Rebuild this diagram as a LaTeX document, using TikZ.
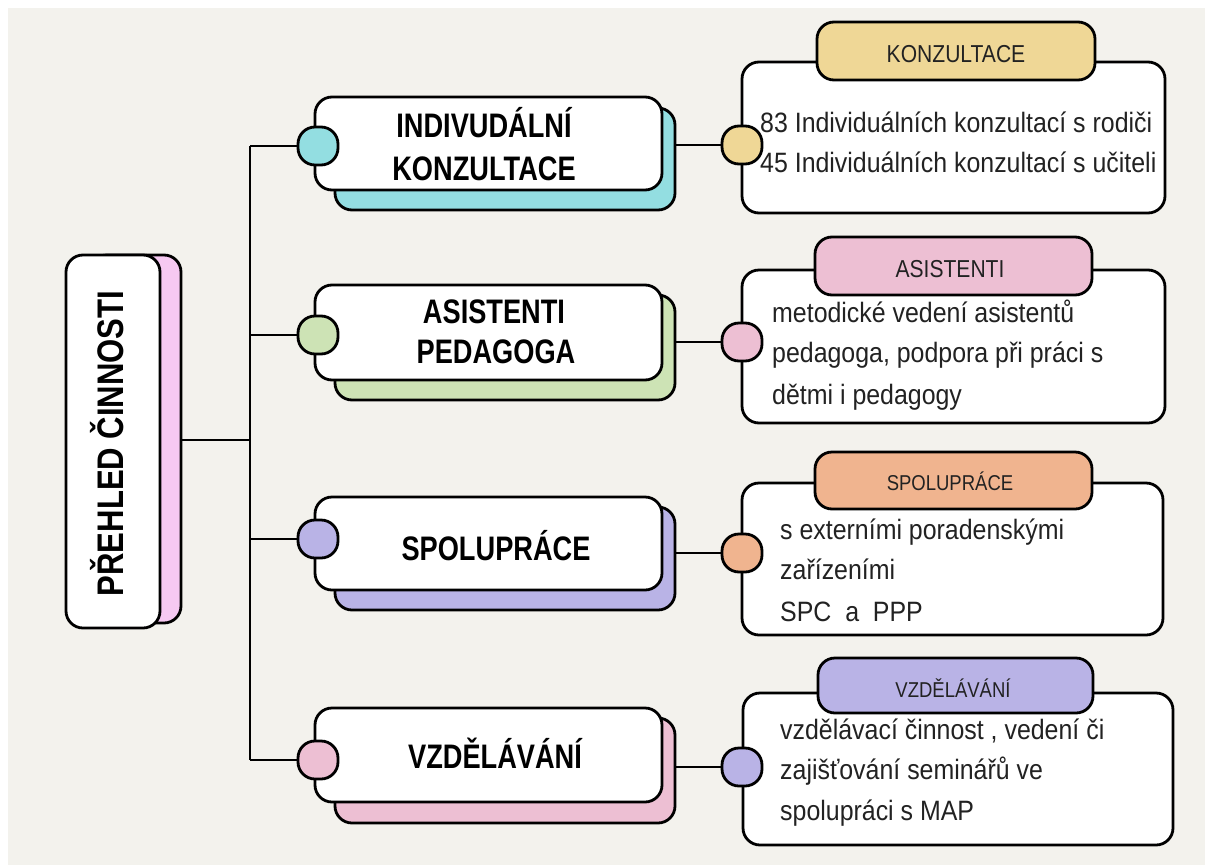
\documentclass[tikz,border=0pt]{standalone}
\usepackage{fontspec}
\setmainfont[FakeStretch=0.89]{Liberation Sans}
\newfontfamily\headfont[FakeStretch=0.80]{Liberation Sans}
\newfontfamily\rootfont[FakeStretch=0.84]{Liberation Sans}
\newfontfamily\tabfont[FakeStretch=0.86]{Liberation Sans}
\usetikzlibrary{fit}
\definecolor{bgc}{HTML}{F3F2ED}
\definecolor{teal1}{HTML}{93DEE1}
\definecolor{green1}{HTML}{CDE3B5}
\definecolor{purple1}{HTML}{B9B3E6}
\definecolor{pink1}{HTML}{EDBFD3}
\definecolor{rootpink}{HTML}{F6C9F2}
\definecolor{yellow1}{HTML}{EFD796}
\definecolor{orange1}{HTML}{F0B48F}
\definecolor{txt}{HTML}{222222}
\begin{document}
\begin{tikzpicture}[x=1pt,y=-1pt,
  panel/.style={draw=black, line width=2.8pt, rounded corners=17pt, inner sep=0pt},
  wpanel/.style={panel, fill=white},
  dot/.style={draw=black, line width=2.8pt, rounded corners=17pt, minimum width=40pt, minimum height=38pt, inner sep=0pt},
  conn/.style={draw=black, line width=2.4pt},
  title/.style={font=\headfont\bfseries\fontsize{34}{40}\selectfont, text=black, inner sep=0pt, anchor=base},
  tabtxt/.style={font=\tabfont\fontsize{24.5}{30}\selectfont, text=txt, inner sep=0pt, anchor=base},
  tabtxts/.style={font=\tabfont\fontsize{21.5}{26}\selectfont, text=txt, inner sep=0pt, anchor=base},
  body/.style={font=\fontsize{28}{40}\selectfont, text=txt, inner sep=0pt, anchor=base west}]
% background
\fill[white] (0,0) rectangle (1205,865);
\fill[bgc] (8,8) rectangle (1205,865);
\useasboundingbox (0,0) rectangle (1205,865);

% ---------- root ----------
\node[panel, fill=rootpink, fit={(90,255) (181,623)}] (s0) {};
\node[wpanel, fit={(66,255) (160,628)}] (w0) {};
\node[font=\rootfont\bfseries\fontsize{37}{40}\selectfont, rotate=90, anchor=base, inner sep=0pt] (t0) at (123,443.5) {PŘEHLED ČINNOSTI};

% ---------- trunk ----------
\coordinate (j0) at (250,440);
\coordinate (j1) at (250,146);
\coordinate (j2) at (250,335);
\coordinate (j3) at (250,539);
\coordinate (j4) at (250,760);
\draw[conn] (s0.east |- j0) -- (j0);
\draw[conn] (j1) -- (j4);

% ---------- left branch boxes ----------
\node[panel, fill=teal1, fit={(335,108) (675,210)}] (s1) {};
\node[wpanel, fit={(315,97) (662,190)}] (w1) {};
\node[panel, fill=green1, fit={(335,295) (675,400)}] (s2) {};
\node[wpanel, fit={(315,285) (662,380)}] (w2) {};
\node[panel, fill=purple1, fit={(335,507) (675,610)}] (s3) {};
\node[wpanel, fit={(315,497) (662,590)}] (w3) {};
\node[panel, fill=pink1, fit={(335,718) (675,823)}] (s4) {};
\node[wpanel, fit={(315,708) (662,802)}] (w4) {};

\node[title] (t1a) at (484,137) {INDIVUDÁLNÍ};
\node[title] (t1b) at (484,180) {KONZULTACE};
\node[title] (t2a) at (494,323) {ASISTENTI};
\node[title] (t2b) at (496,363) {PEDAGOGA};
\node[title] (t3) at (496,560) {SPOLUPRÁCE};
\node[title] (t4) at (495,768) {VZDĚLÁVÁNÍ};

% ---------- right boxes ----------
\node[wpanel, fit={(742,62) (1165,213)}] (r1) {};
\node[panel, fill=yellow1, fit={(817,22) (1095,80)}] (h1) {};
\node[wpanel, fit={(742,270) (1165,423)}] (r2) {};
\node[panel, fill=pink1, fit={(815,237) (1092,295)}] (h2) {};
\node[wpanel, fit={(742,483) (1163,635)}] (r3) {};
\node[panel, fill=orange1, fit={(815,452) (1092,509)}] (h3) {};
\node[wpanel, fit={(743,693) (1173,845)}] (r4) {};
\node[panel, fill=purple1, fit={(818,658) (1093,713)}] (h4) {};

\node[tabtxt] (h1t) at (956,62) {KONZULTACE};
\node[tabtxt] (h2t) at (950,277) {ASISTENTI};
\node[tabtxts] (h3t) at (950,490) {SPOLUPRÁCE};
\node[tabtxts] (h4t) at (953,697) {VZDĚLÁVÁNÍ};

\node[body] (b1a) at (760,132) {83 Individuálních konzultací s rodiči};
\node[body] (b1b) at (760,172) {45 Individuálních konzultací s učiteli};
\node[body] (b2a) at (772,322) {metodické vedení asistentů};
\node[body] (b2b) at (772,362) {pedagoga, podpora při práci s};
\node[body] (b2c) at (772,404) {dětmi i pedagogy};
\node[body] (b3a) at (780,539) {s externími poradenskými};
\node[body] (b3b) at (780,579) {zařízeními};
\node[body] (b3c) at (780,621) {SPC\ \ a\ \ PPP};
\node[body] (b4a) at (780,739) {vzdělávací činnost , vedení či};
\node[body] (b4b) at (780,779) {zajišťování seminářů ve};
\node[body] (b4c) at (780,820) {spolupráci s MAP};

% ---------- connectors and dots ----------
\coordinate (k1) at (742,145);
\coordinate (k2) at (742,342);
\coordinate (k3) at (742,553);
\coordinate (k4) at (742,767);
\draw[conn] (s1.east |- k1) -- (k1);
\draw[conn] (s2.east |- k2) -- (k2);
\draw[conn] (s3.east |- k3) -- (k3);
\draw[conn] (s4.east |- k4) -- (k4);

\node[dot, fill=teal1] (l1) at (318,146) {};
\node[dot, fill=green1] (l2) at (318,335) {};
\node[dot, fill=purple1] (l3) at (318,539) {};
\node[dot, fill=pink1] (l4) at (318,760) {};
\draw[conn] (j1) -- (l1.west);
\draw[conn] (j2) -- (l2.west);
\draw[conn] (j3) -- (l3.west);
\draw[conn] (j4) -- (l4.west);

\node[dot, fill=yellow1] (c1) at (k1) {};
\node[dot, fill=pink1] (c2) at (k2) {};
\node[dot, fill=orange1] (c3) at (k3) {};
\node[dot, fill=purple1] (c4) at (k4) {};
\end{tikzpicture}
\end{document}
